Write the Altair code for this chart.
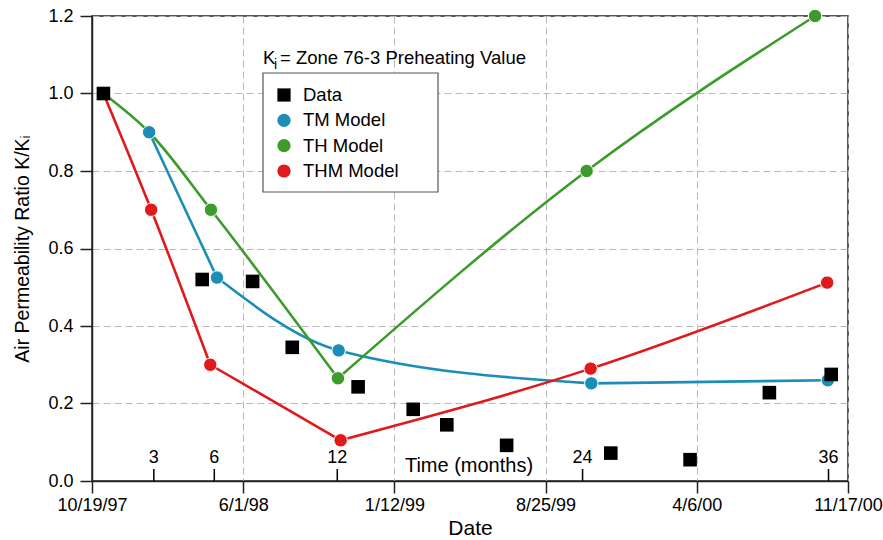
import altair as alt
import pandas as pd

FONT = "Liberation Sans"

# ---------------- data ----------------
series_names = ["Data", "TM Model", "TH Model", "THM Model"]
series_colors = ["#000000", "#1b8db6", "#3c9b2c", "#e0191b"]
series_shapes = ["square", "circle", "circle", "circle"]

x_tick_dates = ["1997-10-19", "1998-06-01", "1999-01-12", "1999-08-25", "2000-04-06", "2000-11-17"]
y_ticks = [0.0, 0.2, 0.4, 0.6, 0.8, 1.0, 1.2]

data_dates = ["1997-11-05", "1998-04-01", "1998-06-15", "1998-08-13", "1998-11-19", "1999-02-09",
              "1999-03-31", "1999-06-28", "1999-11-30", "2000-03-27", "2000-07-23", "2000-10-23"]
data_values = [1.0, 0.52, 0.515, 0.345, 0.243, 0.185, 0.145, 0.092, 0.072, 0.055, 0.228, 0.275]

tm_dates = ["1998-01-12", "1998-04-23", "1998-10-21", "1999-11-01", "2000-10-18"]
tm_values = [0.90, 0.525, 0.337, 0.252, 0.260]
tm_markers = [True, True, True, True, True]
tm_breaks = [1, 3]

th_dates = ["1997-11-05", "1998-01-12", "1998-04-14", "1998-10-20", "1999-10-25", "2000-09-29"]
th_values = [1.0, 0.90, 0.70, 0.265, 0.80, 1.20]
th_markers = [False, False, True, True, True, True]
th_breaks = [3]

thm_dates = ["1997-11-05", "1998-01-15", "1998-04-13", "1998-10-24", "1999-10-31", "2000-10-17"]
thm_values = [1.0, 0.70, 0.30, 0.105, 0.29, 0.512]
thm_markers = [False, True, True, True, True, True]
thm_breaks = [2, 3]

month_labels = [3, 6, 12, 24, 36]
month_origin = "1997-10-19"
month_axis_title = "Time (months)"

# ---------------- tables ----------------
models = [
    ("TM Model", tm_dates, tm_values, tm_markers, tm_breaks),
    ("TH Model", th_dates, th_values, th_markers, th_breaks),
    ("THM Model", thm_dates, thm_values, thm_markers, thm_breaks),
]

line_rows, marker_rows = [], []
for name, ds, vs, ms, br in models:
    bounds = [0] + br + [len(ds) - 1]
    for k in range(len(bounds) - 1):
        for i in range(bounds[k], bounds[k + 1] + 1):
            line_rows.append({"date": ds[i], "value": vs[i], "series": name, "seg": f"{name}-{k}"})
    for d, v, m in zip(ds, vs, ms):
        if m:
            marker_rows.append({"date": d, "value": v, "series": name})

line_df = pd.DataFrame(line_rows)
marker_df = pd.DataFrame(marker_rows)
data_df = pd.DataFrame({"date": data_dates, "value": data_values, "series": "Data"})

origin = pd.Timestamp(month_origin)
month_df = pd.DataFrame({
    "date": [(origin + pd.DateOffset(months=m)).strftime("%Y-%m-%d") for m in month_labels],
    "label": [str(m) for m in month_labels],
})
legend_df = pd.DataFrame({"series": series_names})
one_row = pd.DataFrame({"k": [0]})


def dt(s):
    y, m, d = (int(p) for p in s.split("-"))
    return alt.DateTime(year=y, month=m, date=d, utc=True)


x_scale = alt.Scale(type="utc", domain=[dt(x_tick_dates[0]), dt(x_tick_dates[-1])])
y_scale = alt.Scale(domain=[0, 1.2], nice=False)
color_scale = alt.Scale(domain=series_names, range=series_colors)
shape_scale = alt.Scale(domain=series_names, range=series_shapes)

X = alt.X("date:T", scale=x_scale, title="Date",
          axis=alt.Axis(values=[dt(s) for s in x_tick_dates],
                        labelExpr="utcFormat(datum.value, '%-m/%-d/%y')"))
Y = alt.Y("value:Q", scale=y_scale, title="Air Permeability Ratio K/Kᵢ",
          axis=alt.Axis(values=y_ticks, format=".1f"))

lines = alt.Chart(line_df).mark_line(interpolate="monotone", strokeWidth=2.6).encode(
    x=X, y=Y,
    color=alt.Color("series:N", scale=color_scale, legend=None),
    detail="seg:N",
)

circles = alt.Chart(marker_df).mark_circle(size=180, opacity=1, stroke="white", strokeWidth=1).encode(
    x=X, y=Y, color=alt.Color("series:N", scale=color_scale, legend=None),
)

squares = alt.Chart(data_df).mark_square(size=185, opacity=1).encode(
    x=X, y=Y, color=alt.Color("series:N", scale=color_scale, legend=None),
)

month_ticks = alt.Chart(month_df).mark_rule(color="black", strokeWidth=1.5).encode(
    x=X, y=alt.value(465), y2=alt.value(453),
)
month_text = alt.Chart(month_df).mark_text(font=FONT, fontSize=18, baseline="alphabetic", color="black").encode(
    x=X, y=alt.value(447), text="label:N",
)
time_label = alt.Chart(one_row).mark_text(font=FONT, fontSize=20, baseline="alphabetic", align="center",
                                          color="black").encode(
    x=alt.value(377), y=alt.value(456), text=alt.value(month_axis_title),
)

main = alt.layer(lines, circles, squares, month_ticks, month_text, time_label)

# ---------------- legend ----------------
leg_y = alt.Y("series:N", scale=alt.Scale(type="point", domain=series_names, range=[79, 155], padding=0),
              axis=None)
leg_box = alt.Chart(one_row).mark_rect(fill="white", stroke="#555555", strokeWidth=1.2).encode(
    x=alt.value(171), x2=alt.value(346), y=alt.value(57), y2=alt.value(176),
)
leg_sym = alt.Chart(legend_df).mark_point(filled=True, size=175, opacity=1).encode(
    x=alt.value(192), y=leg_y,
    color=alt.Color("series:N", scale=color_scale, legend=None),
    shape=alt.Shape("series:N", scale=shape_scale, legend=None),
)
leg_txt = alt.Chart(legend_df).mark_text(font=FONT, fontSize=18.5, align="left", baseline="middle",
                                         color="black").encode(
    x=alt.value(211), y=leg_y, text="series:N",
)
t_k = alt.Chart(one_row).mark_text(font=FONT, fontSize=18.5, align="left", baseline="alphabetic",
                                   color="black").encode(
    x=alt.value(171), y=alt.value(48), text=alt.value("K"))
t_i = alt.Chart(one_row).mark_text(font=FONT, fontSize=14, align="left", baseline="alphabetic",
                                   color="black").encode(
    x=alt.value(182), y=alt.value(53), text=alt.value("i"))
t_rest = alt.Chart(one_row).mark_text(font=FONT, fontSize=18.5, align="left", baseline="alphabetic",
                                      color="black").encode(
    x=alt.value(188), y=alt.value(48), text=alt.value("= Zone 76-3 Preheating Value"))

legend = alt.layer(leg_box, leg_sym, leg_txt, t_k, t_i, t_rest)

chart = alt.layer(main, legend).resolve_scale(y="independent").properties(
    width=756, height=465,
    padding={"left": 92, "top": 16, "right": 35, "bottom": 59},
    autosize=alt.AutoSizeParams(type="none"),
    background="white",
).configure(font=FONT).configure_view(
    stroke="#222222", strokeWidth=1.5,
).configure_axis(
    labelFont=FONT, titleFont=FONT, labelFontSize=18,
    labelColor="black", titleColor="black", titleFontWeight="normal",
    domainColor="#222222", domainWidth=1.5, tickColor="#222222", tickWidth=1.5, tickSize=12,
    grid=True, gridColor="#b8b8b8", gridDash=[7, 4], gridWidth=1,
).configure_axisX(
    labelPadding=3, titlePadding=3, titleFontSize=21, labelFlush=False, labelOverlap=False, labelBound=False,
).configure_axisY(
    labelPadding=7, titlePadding=15, titleFontSize=19.5,
)

chart.save("out.html", embed_options={"renderer": "svg", "actions": False})
